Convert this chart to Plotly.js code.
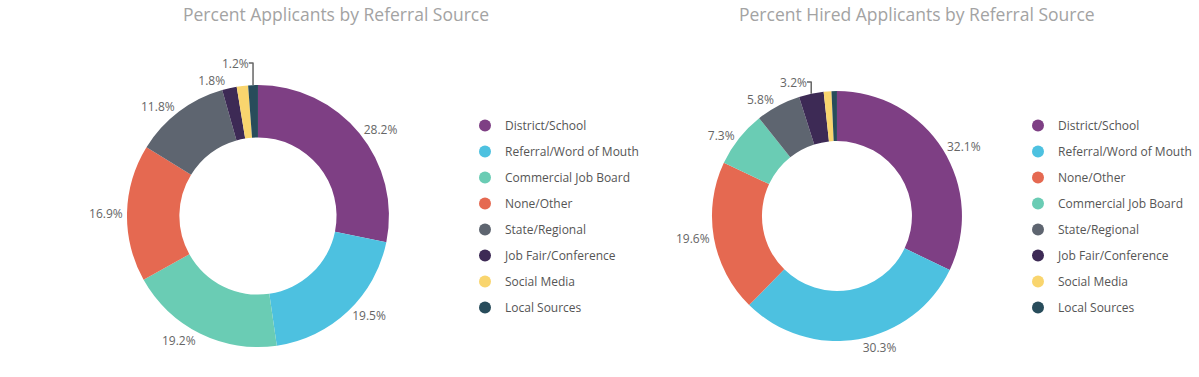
<!DOCTYPE html>
<html>
<head>
<meta charset="utf-8">
<script src="https://cdn.plot.ly/plotly-3.0.1.min.js"></script>
<style>html,body{margin:0;padding:0;background:#fff;}#chart{width:1199px;height:377px;}</style>
</head>
<body>
<div id="chart"></div>
<script>
// Categories in slice order for each chart
const applicantCategories = ["District/School", "Referral/Word of Mouth", "Commercial Job Board", "None/Other", "State/Regional", "Job Fair/Conference", "Social Media", "Local Sources"];
const applicantValues = [28.2, 19.5, 19.2, 16.9, 11.8, 1.8, 1.4, 1.2];
const applicantShowLabel = [true, true, true, true, true, true, false, true];

const hiredCategories = ["District/School", "Referral/Word of Mouth", "None/Other", "Commercial Job Board", "State/Regional", "Job Fair/Conference", "Social Media", "Local Sources"];
const hiredValues = [32.1, 30.3, 19.6, 7.3, 5.8, 3.2, 1.0, 0.7];
const hiredShowLabel = [true, true, true, true, true, true, false, false];

const leftTitle = "Percent Applicants by Referral Source";
const rightTitle = "Percent Hired Applicants by Referral Source";

const palette = {
  "District/School": "#7E3F84",
  "Referral/Word of Mouth": "#4DC1E0",
  "Commercial Job Board": "#6ACCB4",
  "None/Other": "#E56951",
  "State/Regional": "#5E6570",
  "Job Fair/Conference": "#3D2A55",
  "Social Media": "#F9D56E",
  "Local Sources": "#284C5B"
};

const FONT = "Open Sans, Segoe UI, sans-serif";
const labelColor = "#666666";

function pieTrace(cats, vals, show, domain) {
  return {
    type: "pie",
    labels: cats,
    values: vals,
    sort: false,
    direction: "clockwise",
    rotation: 0,
    hole: 0.6,
    domain: domain,
    marker: {colors: cats.map(c => palette[c]), line: {color: "#ffffff", width: 0}},
    textposition: "outside",
    texttemplate: show.map(s => s ? "%{value:.1f}%" : ""),
    textfont: {family: FONT, size: 12, color: labelColor},
    outsidetextfont: {family: FONT, size: 12, color: labelColor},
    showlegend: false,
    hoverinfo: "label+value"
  };
}

const traces = [
  pieTrace(applicantCategories, applicantValues, applicantShowLabel, {x: [0.1059, 0.3244], y: [0.0796, 0.7745]}),
  pieTrace(hiredCategories, hiredValues, hiredShowLabel, {x: [0.5938, 0.8023], y: [0.0955, 0.7586]})
];

function legendTraces(cats, legendId, prefix) {
  return cats.map(c => ({
    type: "scatter",
    mode: "markers",
    x: [null], y: [null],
    name: c,
    legend: legendId,
    legendgroup: prefix + c,
    marker: {symbol: "circle", size: 12, color: palette[c]},
    hoverinfo: "skip",
    showlegend: true
  }));
}

traces.push(...legendTraces(applicantCategories, "legend", "a"));
traces.push(...legendTraces(hiredCategories, "legend2", "h"));

const legendBase = {
  yanchor: "top",
  xanchor: "left",
  font: {family: FONT, size: 12, color: "#555555"},
  bgcolor: "rgba(0,0,0,0)",
  borderwidth: 0,
  traceorder: "grouped",
  tracegroupgap: 7,
  itemclick: false,
  itemdoubleclick: false
};

const layout = {
  width: 1199,
  height: 377,
  margin: {l: 0, r: 0, t: 0, b: 0},
  paper_bgcolor: "#ffffff",
  plot_bgcolor: "#ffffff",
  font: {family: FONT},
  xaxis: {visible: false},
  yaxis: {visible: false},
  legend: Object.assign({}, legendBase, {x: 465 / 1199, y: 1 - 111 / 377}),
  legend2: Object.assign({}, legendBase, {x: 1018 / 1199, y: 1 - 111 / 377}),
  annotations: [
    {text: leftTitle, xref: "paper", yref: "paper", x: 336 / 1199, y: 1, xanchor: "center", yanchor: "top", showarrow: false, font: {family: FONT, size: 17.5, color: "#a3a3a3"}},
    {text: rightTitle, xref: "paper", yref: "paper", x: 917 / 1199, y: 1, xanchor: "center", yanchor: "top", showarrow: false, font: {family: FONT, size: 17.5, color: "#a3a3a3"}}
  ]
};

Plotly.newPlot("chart", traces, layout, {displayModeBar: false, staticPlot: true});
</script>
</body>
</html>
